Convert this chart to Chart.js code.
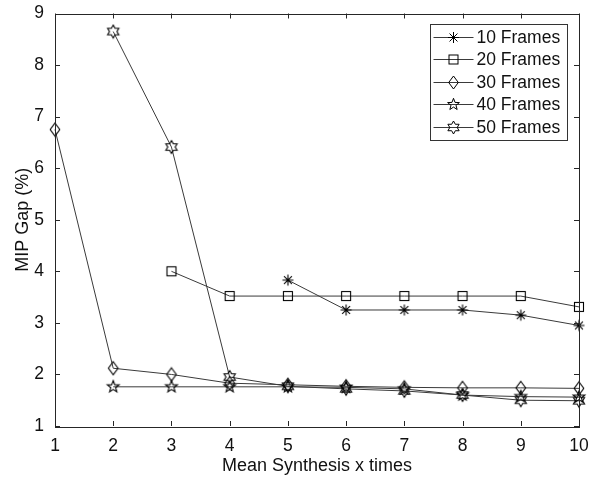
<!DOCTYPE html>
<html>
<head>
<meta charset="utf-8">
<script src="https://cdn.jsdelivr.net/npm/chart.js@4.4.1/dist/chart.umd.min.js"></script>
<style>
  html, body { margin: 0; padding: 0; background: #fff; }
  #wrap { width: 600px; height: 481px; }
</style>
</head>
<body>
<div id="wrap"><canvas id="gapChart"></canvas></div>
<script>
// values
const times = [1, 2, 3, 4, 5, 6, 7, 8, 9, 10];
const seriesLabels = ['10 Frames', '20 Frames', '30 Frames', '40 Frames', '50 Frames'];
const frames10 = [null, null, null, null, 3.83, 3.25, 3.25, 3.25, 3.15, 2.95];
const frames20 = [null, null, 4.0, 3.52, 3.52, 3.52, 3.52, 3.52, 3.52, 3.31];
const frames30 = [6.75, 2.12, 2.0, 1.83, 1.80, 1.77, 1.75, 1.74, 1.74, 1.73];
const frames40 = [null, 1.76, 1.76, 1.76, 1.76, 1.75, 1.72, 1.60, 1.57, 1.56];
const frames50 = [null, 8.65, 6.41, 1.95, 1.77, 1.72, 1.68, 1.60, 1.50, 1.49];
const yTicks = [1, 2, 3, 4, 5, 6, 7, 8, 9];

const FONT = '"Liberation Sans", Arial, Helvetica, sans-serif';
const AXIS = '#262626';

// marker shapes, drawn around (cx, cy)
function asterisk(ctx, cx, cy) {
    const r = 5.5, d = r * 0.72;
    ctx.beginPath();
    ctx.moveTo(cx, cy - r); ctx.lineTo(cx, cy + r);
    ctx.moveTo(cx - d, cy - d); ctx.lineTo(cx + d, cy + d);
    ctx.moveTo(cx - d, cy + d); ctx.lineTo(cx + d, cy - d);
    ctx.moveTo(cx - r, cy); ctx.lineTo(cx + r, cy);
    ctx.stroke();
}
function square(ctx, cx, cy) {
    ctx.strokeRect(cx - 4.5, cy - 4.5, 9, 9);
}
function diamond(ctx, cx, cy) {
    ctx.beginPath();
    ctx.moveTo(cx, cy - 6.5); ctx.lineTo(cx + 4.8, cy);
    ctx.lineTo(cx, cy + 6.5); ctx.lineTo(cx - 4.8, cy);
    ctx.closePath();
    ctx.stroke();
}
function starShape(ctx, cx, cy, n, outer, inner) {
    ctx.beginPath();
    for (let i = 0; i < n * 2; i++) {
        const r = i % 2 === 0 ? outer : inner;
        const a = -Math.PI / 2 + i * Math.PI / n;
        const px = cx + r * Math.cos(a), py = cy + r * Math.sin(a);
        if (i === 0) ctx.moveTo(px, py); else ctx.lineTo(px, py);
    }
    ctx.closePath();
    ctx.stroke();
}
function pentagram(ctx, cx, cy) { starShape(ctx, cx, cy, 5, 6.2, 2.6); }
function hexagram(ctx, cx, cy) { starShape(ctx, cx, cy, 6, 6.5, 3.7); }

const markerFns = [asterisk, square, diamond, pentagram, hexagram];

function makeMarker(fn) {
    const c = document.createElement('canvas');
    c.width = 16; c.height = 16;
    const ctx = c.getContext('2d');
    ctx.strokeStyle = '#000';
    ctx.lineWidth = 1.1;
    fn(ctx, 8, 8);
    return c;
}

function toPoints(values) {
    return times.map((t, i) => ({ x: t, y: values[i] })).filter(p => p.y !== null);
}

const allSeries = [frames10, frames20, frames30, frames40, frames50];

const datasets = allSeries.map((vals, i) => ({
    label: seriesLabels[i],
    data: toPoints(vals),
    borderColor: '#3a3a3a',
    borderWidth: 1,
    pointStyle: makeMarker(markerFns[i]),
    pointRadius: 6,
    pointHoverRadius: 6,
    tension: 0,
    clip: false
}));

// box around the plot, inward ticks and the legend
const frameAndLegend = {
    id: 'frameAndLegend',
    afterDraw(chart) {
        const ctx = chart.ctx;
        const a = chart.chartArea;
        const xs = chart.scales.x, ys = chart.scales.y;
        ctx.save();
        ctx.strokeStyle = AXIS;
        ctx.lineWidth = 1;
        ctx.strokeRect(Math.round(a.left) + 0.5, Math.round(a.top) + 0.5,
            Math.round(a.right - a.left), Math.round(a.bottom - a.top));
        ctx.beginPath();
        times.forEach(t => {
            const px = Math.round(xs.getPixelForValue(t)) + 0.5;
            ctx.moveTo(px, a.bottom); ctx.lineTo(px, a.bottom - 5);
            ctx.moveTo(px, a.top); ctx.lineTo(px, a.top + 5);
        });
        yTicks.forEach(v => {
            const py = Math.round(ys.getPixelForValue(v)) + 0.5;
            ctx.moveTo(a.left, py); ctx.lineTo(a.left + 5, py);
            ctx.moveTo(a.right, py); ctx.lineTo(a.right - 5, py);
        });
        ctx.stroke();

        // legend
        const lx = 430.5, ly = 24.5, lw = 137, lh = 116, row = 22.6;
        ctx.fillStyle = '#fff';
        ctx.fillRect(lx, ly, lw, lh);
        ctx.strokeStyle = '#333';
        ctx.strokeRect(lx, ly, lw, lh);
        ctx.font = '17.5px ' + FONT;
        ctx.textBaseline = 'middle';
        seriesLabels.forEach((lab, i) => {
            const cy = Math.round(ly + 12 + i * row) + 0.5;
            ctx.strokeStyle = '#3a3a3a';
            ctx.beginPath();
            ctx.moveTo(lx + 3, cy); ctx.lineTo(lx + 43, cy);
            ctx.stroke();
            ctx.strokeStyle = '#000';
            markerFns[i](ctx, lx + 23, cy);
            ctx.fillStyle = '#111';
            ctx.fillText(lab, lx + 46, cy + 1);
        });
        ctx.restore();
    }
};

const config = {
    type: 'line',
    data: { datasets: datasets },
    options: {
        responsive: true,
        maintainAspectRatio: false,
        animation: false,
        layout: { padding: { top: 13, right: 21, left: 0, bottom: 0 } },
        plugins: {
            legend: { display: false },
            tooltip: { enabled: false }
        },
        scales: {
            x: {
                type: 'linear',
                min: 1,
                max: 10,
                grid: { display: false },
                border: { display: false },
                ticks: {
                    stepSize: 1,
                    color: '#111',
                    padding: 2,
                    font: { family: FONT, size: 17.5 }
                },
                title: {
                    display: true,
                    text: 'Mean Synthesis x times',
                    color: '#111',
                    padding: { top: 0, bottom: 4 },
                    font: { family: FONT, size: 18 }
                },
                afterFit(scale) { scale.height = 55; }
            },
            y: {
                min: 1,
                max: 9,
                grid: { display: false },
                border: { display: false },
                ticks: {
                    stepSize: 1,
                    color: '#111',
                    padding: 3,
                    font: { family: FONT, size: 17.5 }
                },
                title: {
                    display: true,
                    text: 'MIP Gap (%)',
                    color: '#111',
                    padding: { top: 12, bottom: 0 },
                    font: { family: FONT, size: 18 }
                },
                afterFit(scale) { scale.width = 55; }
            }
        }
    },
    plugins: [frameAndLegend]
};

const gapChart = new Chart(document.querySelector('#gapChart'), config);
</script>
</body>
</html>
